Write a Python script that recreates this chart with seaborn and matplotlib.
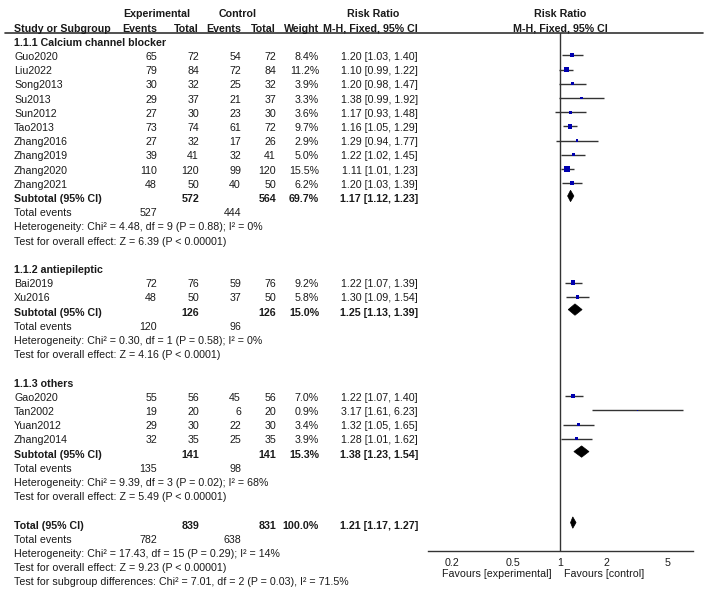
import numpy as np
import matplotlib
matplotlib.use("Agg")
import matplotlib.pyplot as plt
from matplotlib import font_manager
from matplotlib.lines import Line2D
import pandas as pd
import seaborn as sns

# --- data ---
group_names = ["1.1.1 Calcium channel blocker", "1.1.2 antiepileptic", "1.1.3 others"]
group_sizes = [10, 2, 4]

studies = ["Guo2020", "Liu2022", "Song2013", "Su2013", "Sun2012", "Tao2013",
           "Zhang2016", "Zhang2019", "Zhang2020", "Zhang2021",
           "Bai2019", "Xu2016",
           "Gao2020", "Tan2002", "Yuan2012", "Zhang2014"]
exp_events = [65, 79, 30, 29, 27, 73, 27, 39, 110, 48, 72, 48, 55, 19, 29, 32]
exp_total = [72, 84, 32, 37, 30, 74, 32, 41, 120, 50, 76, 50, 56, 20, 30, 35]
ctrl_events = [54, 72, 25, 21, 23, 61, 17, 32, 99, 40, 59, 37, 45, 6, 22, 25]
ctrl_total = [72, 84, 32, 37, 30, 72, 26, 41, 120, 50, 76, 50, 56, 20, 30, 35]
weight = [8.4, 11.2, 3.9, 3.3, 3.6, 9.7, 2.9, 5.0, 15.5, 6.2, 9.2, 5.8, 7.0, 0.9, 3.4, 3.9]
rr = [1.20, 1.10, 1.20, 1.38, 1.17, 1.16, 1.29, 1.22, 1.11, 1.20, 1.22, 1.30, 1.22, 3.17, 1.32, 1.28]
rr_lo = [1.03, 0.99, 0.98, 0.99, 0.93, 1.05, 0.94, 1.02, 1.01, 1.03, 1.07, 1.09, 1.07, 1.61, 1.05, 1.01]
rr_hi = [1.40, 1.22, 1.47, 1.92, 1.48, 1.29, 1.77, 1.45, 1.23, 1.39, 1.39, 1.54, 1.40, 6.23, 1.65, 1.62]

sub_exp_total = [572, 126, 141]
sub_ctrl_total = [564, 126, 141]
sub_weight = [69.7, 15.0, 15.3]
sub_rr = [1.17, 1.25, 1.38]
sub_lo = [1.12, 1.13, 1.23]
sub_hi = [1.23, 1.39, 1.54]
sub_exp_events = [527, 120, 135]
sub_ctrl_events = [444, 96, 98]
sub_chi2 = [4.48, 0.30, 9.39]
sub_df = [9, 1, 3]
sub_p = ["0.88", "0.58", "0.02"]
sub_i2 = [0, 0, 68]
sub_z = [6.39, 4.16, 5.49]
sub_pz = ["< 0.00001", "< 0.0001", "< 0.00001"]

tot_exp_total, tot_ctrl_total = 839, 831
tot_rr, tot_lo, tot_hi = 1.21, 1.17, 1.27
tot_exp_events, tot_ctrl_events = 782, 638
tot_het = "Heterogeneity: Chi² = 17.43, df = 15 (P = 0.29); I² = 14%"
tot_test = "Test for overall effect: Z = 9.23 (P < 0.00001)"
sub_diff = "Test for subgroup differences: Chi² = 7.01, df = 2 (P = 0.03), I² = 71.5%"

tick_vals = [0.2, 0.5, 1, 2, 5]
tick_labels = ["0.2", "0.5", "1", "2", "5"]

# --- layout (pixels) ---
W, H = 708, 591
Y0, DY = 12.8, 14.2
COL = dict(name=14, ee=157, et=199, ce=241, ct=276, w=319, rr=418)
TXT = "#1a1a1a"
BLUE = "#0000b0"

sns.set_theme(style="white")
avail = {f.name for f in font_manager.fontManager.ttflist}
if "Liberation Sans Narrow" in avail:
    plt.rcParams["font.family"] = ["Liberation Sans Narrow", "DejaVu Sans"]
    FS = 9.1
else:
    plt.rcParams["font.family"] = ["Liberation Sans", "DejaVu Sans"]
    FS = 7.7

fig = plt.figure(figsize=(W / 100, H / 100), dpi=100)


def row_y(k):
    return Y0 + DY * k


def put(x, k, s, ha="left", bold=False):
    fig.text(x / W, 1 - (row_y(k) + 4.6) / H, s, ha=ha, va="baseline",
             fontsize=FS, color=TXT, fontweight="bold" if bold else "normal")


# column headers
put(157, 0, "Experimental", ha="center", bold=True)
put(238, 0, "Control", ha="center", bold=True)
put(373, 0, "Risk Ratio", ha="center", bold=True)
put(560, 0, "Risk Ratio", ha="center", bold=True)
put(COL["name"], 1, "Study or Subgroup", bold=True)
put(COL["ee"], 1, "Events", ha="right", bold=True)
put(COL["et"], 1, "Total", ha="right", bold=True)
put(COL["ce"], 1, "Events", ha="right", bold=True)
put(COL["ct"], 1, "Total", ha="right", bold=True)
put(COL["w"], 1, "Weight", ha="right", bold=True)
put(COL["rr"], 1, "M-H, Fixed, 95% CI", ha="right", bold=True)
put(560, 1, "M-H, Fixed, 95% CI", ha="center", bold=True)
fig.add_artist(Line2D([5 / W, 703 / W], [1 - 33.2 / H] * 2, color="#333333", lw=1.2))

# table body
study_rows = []
sub_rows = []
k = 2
i = 0
for g, name in enumerate(group_names):
    put(COL["name"], k, name, bold=True)
    k += 1
    for _ in range(group_sizes[g]):
        put(COL["name"], k, studies[i])
        put(COL["ee"], k, str(exp_events[i]), ha="right")
        put(COL["et"], k, str(exp_total[i]), ha="right")
        put(COL["ce"], k, str(ctrl_events[i]), ha="right")
        put(COL["ct"], k, str(ctrl_total[i]), ha="right")
        put(COL["w"], k, f"{weight[i]:.1f}%", ha="right")
        put(COL["rr"], k, f"{rr[i]:.2f} [{rr_lo[i]:.2f}, {rr_hi[i]:.2f}]", ha="right")
        study_rows.append(k)
        k += 1
        i += 1
    put(COL["name"], k, "Subtotal (95% CI)", bold=True)
    put(COL["et"], k, str(sub_exp_total[g]), ha="right", bold=True)
    put(COL["ct"], k, str(sub_ctrl_total[g]), ha="right", bold=True)
    put(COL["w"], k, f"{sub_weight[g]:.1f}%", ha="right", bold=True)
    put(COL["rr"], k, f"{sub_rr[g]:.2f} [{sub_lo[g]:.2f}, {sub_hi[g]:.2f}]", ha="right", bold=True)
    sub_rows.append(k)
    k += 1
    put(COL["name"], k, "Total events")
    put(COL["ee"], k, str(sub_exp_events[g]), ha="right")
    put(COL["ce"], k, str(sub_ctrl_events[g]), ha="right")
    k += 1
    put(COL["name"], k, f"Heterogeneity: Chi² = {sub_chi2[g]:.2f}, df = {sub_df[g]} "
                        f"(P = {sub_p[g]}); I² = {sub_i2[g]}%")
    k += 1
    put(COL["name"], k, f"Test for overall effect: Z = {sub_z[g]:.2f} (P {sub_pz[g]})")
    k += 2

total_row = k
put(COL["name"], k, "Total (95% CI)", bold=True)
put(COL["et"], k, str(tot_exp_total), ha="right", bold=True)
put(COL["ct"], k, str(tot_ctrl_total), ha="right", bold=True)
put(COL["w"], k, "100.0%", ha="right", bold=True)
put(COL["rr"], k, f"{tot_rr:.2f} [{tot_lo:.2f}, {tot_hi:.2f}]", ha="right", bold=True)
put(COL["name"], k + 1, "Total events")
put(COL["ee"], k + 1, str(tot_exp_events), ha="right")
put(COL["ce"], k + 1, str(tot_ctrl_events), ha="right")
put(COL["name"], k + 2, tot_het)
put(COL["name"], k + 3, tot_test)
put(COL["name"], k + 4, sub_diff)

# --- forest panel ---
x1_px, dec_px = 560, 154.5
left_px, right_px, top_px, bot_px = 428, 693, 33.2, 551
ax = fig.add_axes([left_px / W, 1 - bot_px / H, (right_px - left_px) / W, (bot_px - top_px) / H])
ax.set_xscale("log")
ax.set_xlim(10 ** ((left_px - x1_px) / dec_px), 10 ** ((right_px - x1_px) / dec_px))
ax.set_ylim((bot_px - Y0) / DY, (top_px - Y0) / DY)
ax.patch.set_alpha(0)
for s in ["top", "left", "right"]:
    ax.spines[s].set_visible(False)
ax.spines["bottom"].set_color("#333333")
ax.spines["bottom"].set_linewidth(1.0)
ax.axvline(1, color="#333333", lw=1.0)

df = pd.DataFrame({"rr": rr, "lo": rr_lo, "hi": rr_hi, "w": weight, "row": study_rows})
ax.hlines(df["row"], df["lo"], df["hi"], color="#333333", lw=1.0)
sns.scatterplot(data=df, x="rr", y="row", size="w", sizes=(1.2, 16), size_norm=(0.9, 15.5),
                marker="s", color=BLUE, linewidth=0, legend=False, ax=ax, zorder=3)

dh = 0.4
for r, c, lo_, hi_ in zip(sub_rows + [total_row], sub_rr + [tot_rr], sub_lo + [tot_lo], sub_hi + [tot_hi]):
    ax.fill([lo_, c, hi_, c], [r - 0.1, r - 0.1 - dh, r - 0.1, r - 0.1 + dh], color="black", lw=0.5, zorder=4)

ax.set_xticks(tick_vals)
ax.set_xticklabels(tick_labels)
ax.minorticks_off()
ax.tick_params(axis="x", direction="inout", length=7, width=1, color="#333333",
               labelsize=FS, labelcolor=TXT, pad=1.5)
ax.tick_params(axis="y", left=False, labelleft=False)
ax.set_xlabel("")
ax.set_ylabel("")

fig.text(552 / W, 1 - 577 / H, "Favours [experimental]", ha="right", va="baseline", fontsize=FS, color=TXT)
fig.text(564 / W, 1 - 577 / H, "Favours [control]", ha="left", va="baseline", fontsize=FS, color=TXT)

fig.savefig("out.png", dpi=100)
